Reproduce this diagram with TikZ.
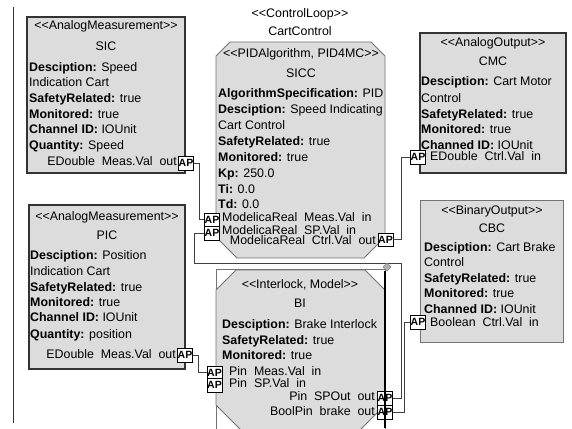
\documentclass[tikz,border=0pt]{standalone}
\usepackage{fontspec}
\setmainfont{Liberation Sans}
\definecolor{boxgray}{RGB}{220,220,220}
\tikzset{
  txt/.style={inner sep=0pt, text height=9pt, text depth=3pt, font=\fontsize{12.4}{14}\selectfont},
  lbl/.style={txt, anchor=west},
  rlbl/.style={txt, anchor=east},
  ap/.style={draw=black, fill=white, inner sep=0pt, minimum width=15pt, minimum height=13.5pt, font=\fontsize{10.5}{12}\selectfont\bfseries},
  heavy/.style={fill=boxgray, draw=black!80, line width=1.6pt},
  light/.style={fill=boxgray, draw=black!55, line width=0.8pt},
  wire/.style={draw=black!75, line width=0.8pt},
}
\begin{document}
\begin{tikzpicture}[x=1pt, y=-1pt]
        \useasboundingbox (0,0) rectangle (572,428);
        \clip (0,0) rectangle (572,428);

        % Trait vertical a gauche
        \draw[black!80, line width=1pt] (13,7) -- (13,423);

        % Boucle
        \node[txt] (loop) at (300,15) {{<}{<}ControlLoop{>}{>}};
        \node[txt] (loopname) at (300,33) {CartControl};

        % Blocs
        \draw[heavy] (27,17) rectangle (185,173);
        \draw[heavy] (29,205) rectangle (185,369);
        \draw[heavy] (420,33) rectangle (566,173);
        \draw[light] (420,200) rectangle (563,342);
        \draw[light] (230,42) -- (371,42) -- (385,56) -- (385,237) -- (364,258)
            -- (237,258) -- (216,237) -- (216,56) -- cycle;
        \draw[black!55, line width=0.8pt] (216,269) rectangle (385,440);
        \draw[light] (236,270) -- (365,270) -- (385,290) -- (385,405) -- (360,430)
            -- (241,430) -- (216,405) -- (216,290) -- cycle;

        % SIC
        \node[txt] (sicst) at (106,27) {{<}{<}AnalogMeasurement{>}{>}};
        \node[txt] (sicname) at (106,47) {SIC};
        \foreach \y/\t [count=\i] in {68/{\textbf{Desciption:} Speed}, 83/{Indication Cart},
            99/{\textbf{SafetyRelated:} true}, 115/{\textbf{Monitored:} true},
            130/{\textbf{Channel ID:} IOUnit}, 146/{\textbf{Quantity:} Speed}}
            \node[lbl] (sic\i) at (29,\y) {\t};
        \node[rlbl] (sicport) at (177,162) {EDouble\ \ Meas.Val\ \ out};

        % PIC
        \node[txt] (picst) at (107,217) {{<}{<}AnalogMeasurement{>}{>}};
        \node[txt] (picname) at (107,236) {PIC};
        \foreach \y/\t [count=\i] in {256/{\textbf{Desciption:} Position}, 272/{Indication Cart},
            288/{\textbf{SafetyRelated:} true}, 303/{\textbf{Monitored:} true},
            318/{\textbf{Channel ID:} IOUnit}, 335/{\textbf{Quantity:} position}}
            \node[lbl] (pic\i) at (30,\y) {\t};
        \node[rlbl] (picport) at (176,355) {EDouble\ \ Meas.Val\ \ out};

        % SICC
        \node[txt] (siccst) at (301,55) {{<}{<}PIDAlgorithm, PID4MC{>}{>}};
        \node[txt] (siccname) at (301,74) {SICC};
        \foreach \y/\t [count=\i] in {94/{\textbf{AlgorithmSpecification:} PID},
            110/{\textbf{Desciption:} Speed Indicating}, 126/{Cart Control},
            142/{\textbf{SafetyRelated:} true}, 158/{\textbf{Monitored:} true},
            174/{\textbf{Kp:} 250.0}, 190/{\textbf{Ti:} 0.0}, 205/{\textbf{Td:} 0.0}}
            \node[lbl] (sicc\i) at (218,\y) {\t};
        \node[lbl] (siccmeasl) at (222,218) {ModelicaReal\ \ Meas.Val\ \ in};
        \node[lbl] (siccspl) at (222,231) {ModelicaReal\ \ SP.Val\ \ in};
        \node[rlbl] (siccctrll) at (376,241) {ModelicaReal\ \ Ctrl.Val\ \ out};

        % BI
        \node[txt] (bist) at (300,285) {{<}{<}Interlock, Model{>}{>}};
        \node[txt] (biname) at (300,304) {BI};
        \foreach \y/\t [count=\i] in {325/{\textbf{Desciption:} Brake Interlock},
            341/{\textbf{SafetyRelated:} true}, 356/{\textbf{Monitored:} true}}
            \node[lbl] (bi\i) at (222,\y) {\t};
        \node[lbl] (bimeasl) at (229,372) {Pin\ \ Meas.Val\ \ in};
        \node[lbl] (bispl) at (229,384) {Pin\ \ SP.Val\ \ in};
        \node[rlbl] (bispoutl) at (375,397) {Pin\ \ SPOut\ \ out};
        \node[rlbl] (bibrakel) at (375,412) {BoolPin\ \ brake\ \ out};

        % CMC
        \node[txt] (cmcst) at (493,43) {{<}{<}AnalogOutput{>}{>}};
        \node[txt] (cmcname) at (493,63) {CMC};
        \foreach \y/\t [count=\i] in {82/{\textbf{Desciption:} Cart Motor}, 99/{Control},
            115/{\textbf{SafetyRelated:} true}, 130/{\textbf{Monitored:} true},
            146/{\textbf{Channed ID:} IOUnit}}
            \node[lbl] (cmc\i) at (421,\y) {\t};
        \node[lbl] (cmcport) at (430,157) {EDouble\ \ Ctrl.Val\ \ in};

        % CBC
        \node[txt] (cbcst) at (492,211) {{<}{<}BinaryOutput{>}{>}};
        \node[txt] (cbcname) at (492,229) {CBC};
        \foreach \y/\t [count=\i] in {248/{\textbf{Desciption:} Cart Brake}, 263/{Control},
            279/{\textbf{SafetyRelated:} true}, 294/{\textbf{Monitored:} true},
            310/{\textbf{Channed ID:} IOUnit}}
            \node[lbl] (cbc\i) at (424,\y) {\t};
        \node[lbl] (cbcport) at (430,323) {Boolean\ \ Ctrl.Val\ \ in};

        % Connexions
        \node[ap] (sicap) at (186,163) {AP};
        \node[ap] (picap) at (185,355) {AP};
        \node[ap] (siccmeas) at (212,219.5) {AP};
        \node[ap] (siccsp) at (212,233) {AP};
        \node[ap] (siccctrl) at (385.5,239.5) {AP};
        \node[ap] (bimeas) at (214.5,372.5) {AP};
        \node[ap] (bisp) at (214.5,385) {AP};
        \node[ap] (bispout) at (385,398) {AP};
        \node[ap] (bibrake) at (385,412) {AP};
        \node[ap] (cmcap) at (418,157) {AP};
        \node[ap] (cbcap) at (418,322) {AP};

        \draw[wire] (sicap.east) -- ++(6,0) |- (siccmeas.west);
        \draw[wire] (picap.east) -- ++(6,0) |- (bimeas.west);
        \draw[wire] (siccctrl.east) -- ++(8,0) |- (cmcap.west);
        \draw[wire] (bispout.east) -- ++(9,0) |- (194,263) |- (siccsp.west);
        \draw[wire] (bibrake.east) -- ++(12,0) |- (cbcap.west);

        % Selection
        \draw[line width=1.8pt] (385,271) -- (385,428);
        \filldraw[fill=gray!60, draw=gray] (387,263) -- (391,267) -- (387,271) -- (383,267) -- cycle;
    \end{tikzpicture}
\end{document}
